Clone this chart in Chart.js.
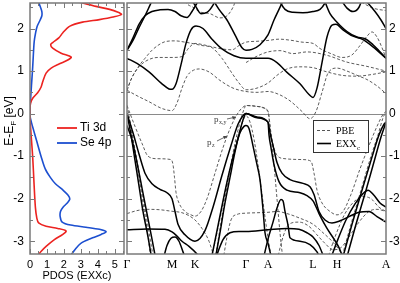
<!DOCTYPE html>
<html><head><meta charset="utf-8">
<script src="https://cdn.jsdelivr.net/npm/chart.js@4.4.1/dist/chart.umd.min.js"></script>
<style>
html,body{margin:0;padding:0;background:#fff;}
#wrap{position:relative;width:400px;height:283px;overflow:hidden;background:#fff;}
canvas{position:absolute;left:0;top:0;}
</style></head><body>
<div id="wrap"><canvas id="dos" width="126" height="283"></canvas><canvas id="bands" width="400" height="283"></canvas></div>
<script>
// ---------- PDOS data (energy in eV, DOS in states) ----------
const tiEnergy = [2.62,2.52,2.45,2.38,2.33,2.27,2.21,2.15,2.05,1.9,1.78,1.67,1.62,1.54,1.42,1.33,1.26,1.17,1.07,0.95,0.75,0.62,0.49,0.36,0.24,0.1,-0.1,-0.47,-1.03,-1.66,-2.21,-2.45,-2.57,-2.65,-2.7,-2.76,-2.84,-2.96,-3.12,-3.24,-3.34];
const tiDos    = [2.9,3.9,4.7,5.2,5.4,4.9,4.1,3.1,2.33,1.94,1.7,1.34,1.22,1.34,1.84,2.43,2.23,1.74,1.25,0.95,0.75,0.65,0.45,0.16,0.03,0,0,0.06,0.16,0.24,0.32,0.4,0.51,0.95,1.64,2.13,1.94,1.44,0.95,0.65,0.45];
const seEnergy = [2.63,2.5,2.4,2.3,2.2,2.05,1.9,1.7,1.4,1.1,0.8,0.5,0.25,0.1,-0.05,-0.2,-0.4,-0.65,-1.0,-1.3,-1.5,-1.65,-1.8,-1.92,-2.01,-2.1,-2.2,-2.3,-2.42,-2.55,-2.62,-2.67,-2.72,-2.78,-2.84,-2.92,-3.05,-3.2,-3.34];
const seDos    = [0.5,0.62,0.7,0.7,0.6,0.42,0.33,0.25,0.2,0.16,0.11,0.06,0.02,0,0,0.08,0.22,0.4,0.65,0.9,1.2,1.5,1.95,2.25,2.35,2.2,1.95,1.8,1.78,1.9,2.4,3.3,4.1,4.5,4.2,3.7,3.0,2.65,2.4];
const dosTicks = [0,1,2,3,4,5];
const energyTicks = [-3,-2,-1,0,1,2];

// ---------- band structure: k-path positions and labels ----------
const kTicks  = [0,45,68,119,141,186,210,259];
const kLabels = ['\u0393','M','K','\u0393','A','L','H','A'];

// EXXc bands: [k, E]
const exxC1 = [[0,1.3],[10,1.18],[22,0.98],[35,0.7],[42,0.58],[45,0.57],[49,0.7],[54,1.15],[59,1.65],[64,1.97],[69,2.06],[76,2.0],[85,1.75],[95,1.52],[107,1.36],[119,1.3],[141,1.3],[150,1.2],[160,0.97],[173,0.7],[182,0.45],[186,0.38],[190,0.6],[195,1.2],[200,1.8],[205,2.08],[209,2.1],[216,1.97],[226,1.82],[236,1.74],[246,1.57],[259,1.3]];
const exxC2 = [[0,1.49],[6,1.72],[12,2.02],[18,2.3],[23,2.55],[27,2.75]];
const exxC3 = [[0,1.49],[6,1.78],[12,2.1],[18,2.3],[25,2.4],[33,2.44],[41,2.45],[48,2.4],[54,2.3],[60,2.26],[65,2.4],[70,2.6],[74,2.75]];
const exxC4 = [[84,2.75],[92,2.45],[100,2.2],[108,1.85],[115,1.55],[119,1.49],[125,1.51],[133,1.62],[141,1.85],[147,2.2],[152,2.45],[156,2.65],[158,2.75]];
const exxC5 = [[62,2.75],[68,2.55],[74,2.35],[80,2.38],[86,2.55],[90,2.75]];
const exxC6 = [[150,2.75],[158,2.45],[166,2.38],[176,2.37],[186,2.4],[193,2.45],[198,2.6],[201,2.75]];
const exxC7 = [[196,2.75],[203,2.35],[210,2.15],[220,1.93],[230,1.8],[238,1.76],[246,1.62],[252,1.48],[259,1.3]];
const exxC8 = [[234,2.75],[240,2.62],[248,2.4],[254,2.2],[259,2.0]];
const exxC9 = [[212,2.75],[220,2.48],[226,2.4],[232,2.5],[236,2.75]];
const exxV1 = [[0,0],[6,-0.45],[12,-0.95],[18,-1.4],[25,-1.65],[33,-1.78],[40,-1.86],[45,-2.0],[48,-2.3],[51,-2.6],[58,-2.85],[68,-3.0],[78,-2.75],[86,-2.2],[95,-1.45],[104,-0.75],[111,-0.25],[116,-0.05],[119,0],[130,-0.08],[141,-0.2],[143,-0.45],[146,-0.75],[150,-1.15],[155,-1.4],[163,-1.55],[176,-1.64],[183,-1.72],[187,-1.9],[192,-2.3],[198,-2.5],[205,-2.57],[213,-2.52],[222,-2.42],[232,-2.32],[242,-2.3],[250,-2.42],[259,-2.55]];
const exxV2 = [[0,0],[4,-0.5],[8,-1.1],[12,-1.7],[16,-2.3],[21,-2.9],[25,-3.45]];
const exxV3 = [[88,-3.45],[93,-2.8],[98,-2.1],[103,-1.5],[108,-0.9],[113,-0.4],[117,-0.08],[119,0],[130,-0.1],[141,-0.2],[142,-0.5],[144,-0.8],[147,-1.2],[152,-1.6],[160,-1.8],[173,-1.86],[180,-1.93],[186,-2.05],[193,-2.4],[200,-2.7],[207,-2.95],[212,-3.15],[217,-3.45]];
const exxV4 = [[0,-0.28],[5,-0.62],[10,-1.15],[15,-1.75],[20,-2.35],[25,-2.95],[29,-3.45]];
const exxV5 = [[84,-3.45],[90,-2.75],[96,-2.05],[102,-1.4],[108,-0.85],[113,-0.45],[117,-0.3],[119,-0.28],[122,-0.35],[126,-0.76],[130,-1.2],[133,-1.55],[136,-2.25],[138,-2.8],[141,-3.05],[145,-3.45]];
const exxV6 = [[136,-3.45],[141,-2.95],[146,-2.55],[150,-2.22],[154,-2.02],[156,-2.05],[158,-2.3],[161,-2.62],[163,-2.92],[173,-3.0],[183,-3.08],[190,-3.25],[194,-3.45]];
const exxV7 = [[0,-2.73],[20,-2.71],[38,-2.72],[45,-2.78],[50,-2.88],[55,-3.0],[62,-3.12],[70,-3.3],[75,-3.45]];
const exxV8 = [[88,-3.45],[91,-3.25],[96,-2.96],[103,-2.8],[112,-2.77],[119,-2.77],[141,-2.73],[160,-2.7],[172,-2.72],[180,-2.8],[186,-2.9],[192,-3.1],[198,-3.45]];
const exxV9 = [[36,-3.45],[40,-3.1],[44,-2.93],[48,-2.9],[52,-3.0],[56,-3.25],[59,-3.45]];
const exxV10 = [[203,-3.45],[211,-2.95],[219,-2.5],[228,-2.12],[236,-1.88],[241,-1.8],[247,-1.92],[253,-2.1],[259,-2.2]];
const exxV11 = [[215,-3.45],[225,-2.6],[235,-1.8],[245,-1.02],[252,-0.5],[257,-0.25],[259,-0.2]];
const exxV12 = [[219,-3.45],[229,-2.6],[239,-1.8],[248,-1.05],[254,-0.55],[258,-0.27],[259,-0.2]];

// PBE bands: [k, E]
const pbeC1 = [[0,0.55],[10,0.42],[22,0.28],[35,0.12],[45,0.07],[50,0.25],[55,0.6],[60,0.88],[65,1.0],[72,1.05],[82,0.98],[93,0.78],[106,0.6],[119,0.52],[130,0.5],[141,0.52],[152,0.45],[163,0.3],[175,0.05],[183,-0.12],[189,0.05],[195,0.5],[201,0.95],[210,1.07],[220,1.0],[230,0.9],[240,0.8],[250,0.65],[259,0.47]];
const pbeC2 = [[0,0.55],[5,0.85],[12,1.1],[20,1.25],[31,1.32],[45,1.32],[55,1.34],[62,1.55],[68,1.65],[76,1.62],[85,1.57],[95,1.52],[105,1.5],[112,1.6],[119,1.68],[130,1.7],[141,1.72],[152,1.75],[165,1.72],[175,1.68],[186,1.65],[193,1.53],[205,1.4],[215,1.32],[225,1.38],[233,1.6],[240,1.82],[245,1.92],[250,1.8],[255,1.55],[259,1.3]];
const pbeC3 = [[0,0.55],[4,0.8],[11,1.09],[18,1.3],[25,1.49],[32,1.62],[38,1.69],[48,1.71],[58,1.68],[65,1.65],[75,1.6],[85,1.55],[95,1.3],[105,0.95],[112,0.72],[119,0.56],[130,0.6],[141,0.72],[150,0.9],[160,1.05],[173,1.1],[186,1.08],[200,0.98],[215,0.9],[230,0.88],[245,0.92],[259,0.98]];
const pbeC4 = [[119,1.2],[130,1.35],[141,1.45],[153,1.48],[166,1.41],[180,1.45],[200,1.37],[220,1.21],[240,1.11],[259,1.0]];
const pbeC5 = [[55,2.75],[60,2.58],[66,2.5],[73,2.39],[83,2.35],[93,2.25],[100,2.3],[106,2.5],[110,2.75]];
const pbeC6 = [[226,2.75],[236,2.6],[246,2.48],[259,2.42]];
const pbeV1 = [[0,0.19],[8,-0.3],[15,-0.7],[21,-1.0],[30,-1.06],[44,-1.08],[46,-1.2],[47.5,-1.5],[49,-1.85],[52,-2.1],[58,-2.3],[64,-2.38],[68,-2.41],[74,-2.3],[80,-2.0],[88,-1.4],[96,-0.8],[104,-0.3],[112,0.05],[117,0.17],[119,0.19],[130,0.17],[138,0.12],[141,0.05],[143,-0.3],[146,-0.72],[150,-0.98],[158,-1.06],[175,-1.08],[184,-1.12],[187,-1.4],[190,-1.8],[195,-2.1],[203,-2.3],[210,-2.38],[216,-2.3],[224,-1.9],[233,-1.3],[242,-0.75],[250,-0.3],[256,-0.02],[259,0.05]];
const pbeV2 = [[0,0.19],[4,-0.3],[8,-0.9],[12,-1.5],[16,-2.1],[20,-2.7],[24,-3.45]];
const pbeV3 = [[88,-3.45],[93,-2.7],[98,-2.0],[103,-1.3],[108,-0.7],[113,-0.2],[117,0.1],[119,0.19],[130,0.17],[141,0.05],[144,-0.5],[147,-1.2],[150,-2.0],[153,-2.8],[156,-3.45]];
const pbeV4 = [[214,-3.45],[224,-2.6],[234,-1.8],[244,-1.0],[251,-0.5],[256,-0.1],[259,0.05]];
const pbeV5 = [[0,-0.05],[5,-0.5],[10,-1.1],[15,-1.8],[20,-2.5],[25,-3.2],[27,-3.45]];
const pbeV6 = [[84,-3.45],[90,-2.8],[96,-2.1],[102,-1.4],[108,-0.8],[114,-0.3],[119,-0.05],[123,-0.2],[127,-0.6],[131,-1.2],[135,-1.9],[139,-2.6],[143,-3.2],[146,-3.45]];
const pbeV7 = [[0,-2.35],[10,-2.28],[20,-2.25],[33,-2.26],[43,-2.29],[55,-2.33],[62,-2.4],[68,-2.5],[75,-2.7],[82,-3.0],[88,-3.45]];
const pbeV8 = [[96,-3.45],[100,-2.9],[104,-2.5],[110,-2.37],[119,-2.34],[130,-2.33],[141,-2.32],[150,-2.3],[160,-2.35],[172,-2.45],[186,-2.6],[196,-2.8],[205,-3.0],[212,-3.2],[218,-3.45]];
const pbeV9 = [[150,-3.45],[156,-2.9],[162,-2.6],[172,-2.55],[182,-2.65],[190,-2.85],[198,-3.05],[206,-3.2],[214,-3.15],[222,-2.9],[232,-2.55],[242,-2.3],[250,-2.25],[259,-2.3]];
const pbeV10 = [[200,-3.45],[208,-2.9],[218,-2.35],[228,-2.05],[236,-1.95],[244,-2.0],[252,-2.2],[259,-2.3]];

const exxBands = [exxC1,exxC2,exxC3,exxC4,exxC5,exxC6,exxC7,exxC8,exxC9,exxV1,exxV2,exxV3,exxV4,exxV5,exxV6,exxV7,exxV8,exxV9,exxV10,exxV11,exxV12];
const pbeBands = [pbeC1,pbeC2,pbeC3,pbeC4,pbeC5,pbeC6,pbeV1,pbeV2,pbeV3,pbeV4,pbeV5,pbeV6,pbeV7,pbeV8,pbeV9,pbeV10];

const E_MIN = -3.3, E_MAX = 2.6;
const FRAME = '#7a7a7a';
const SANS = '"Liberation Sans", Arial, sans-serif';
const SERIF = '"Liberation Serif", "Times New Roman", serif';

function noPad(s) { s.paddingTop = 0; s.paddingBottom = 0; s.paddingLeft = 0; s.paddingRight = 0; }

function drawFrameTicks(ctx, a, yScale, xScale, xMinor){
  ctx.save();
  ctx.strokeStyle = FRAME; ctx.lineWidth = 1.5;
  ctx.strokeRect(a.left, a.top, a.right - a.left, a.bottom - a.top);
  ctx.lineWidth = 1;
  ctx.beginPath();
  for (let e = -3; e <= 2.5001; e += 0.5) {
    const y = Math.round(yScale.getPixelForValue(e)) + 0.5;
    const len = Math.abs(e - Math.round(e)) < 1e-6 ? 5 : 3;
    ctx.moveTo(a.left, y); ctx.lineTo(a.left + len, y);
    ctx.moveTo(a.right, y); ctx.lineTo(a.right - len, y);
  }
  if (xMinor) {
    for (let v = 0; v <= 5.5001; v += 0.5) {
      const x = Math.round(xScale.getPixelForValue(v)) + 0.5;
      const len = Math.abs(v - Math.round(v)) < 1e-6 ? 5 : 3;
      ctx.moveTo(x, a.bottom); ctx.lineTo(x, a.bottom - len);
      ctx.moveTo(x, a.top); ctx.lineTo(x, a.top + len);
    }
  }
  ctx.stroke();
  ctx.restore();
}

const dosDecor = {
  id: 'dosDecor',
  afterDatasetsDraw(chart) {
    const {ctx, chartArea: a, scales: {x, y}} = chart;
    drawFrameTicks(ctx, a, y, x, true);
    ctx.save();
    const items = [['Ti 3d', '#ec2320', 128], ['Se 4p', '#1c4fd0', 143]];
    ctx.font = '12px ' + SANS; ctx.textBaseline = 'middle'; ctx.fillStyle = '#000';
    items.forEach(([t, c, yy]) => {
      ctx.strokeStyle = c; ctx.lineWidth = 1.8;
      ctx.beginPath(); ctx.moveTo(57, yy); ctx.lineTo(77, yy); ctx.stroke();
      ctx.fillText(t, 80, yy);
    });
    ctx.font = '11px ' + SANS; ctx.textAlign = 'center'; ctx.textBaseline = 'middle';
    ctx.fillText('PDOS (EXXc)', (a.left + a.right) / 2, 276);
    ctx.translate(9, 121);
    ctx.rotate(-Math.PI / 2);
    const f1 = '12px ' + SANS, f2 = '8px ' + SANS;
    ctx.font = f1; const w1 = ctx.measureText('E-E').width;
    ctx.font = f2; const w2 = ctx.measureText('F').width;
    ctx.font = f1; const w3 = ctx.measureText(' [eV]').width;
    let sx = -(w1 + w2 + w3) / 2;
    ctx.textAlign = 'left'; ctx.textBaseline = 'alphabetic';
    ctx.fillText('E-E', sx, 4); sx += w1;
    ctx.font = f2; ctx.fillText('F', sx, 7); sx += w2;
    ctx.font = f1; ctx.fillText(' [eV]', sx, 4);
    ctx.restore();
  }
};

function arrow(ctx, x1, y1, x2, y2) {
  ctx.beginPath(); ctx.moveTo(x1, y1); ctx.lineTo(x2, y2); ctx.stroke();
  const ang = Math.atan2(y2 - y1, x2 - x1);
  ctx.beginPath();
  ctx.moveTo(x2, y2);
  ctx.lineTo(x2 - 4 * Math.cos(ang - 0.45), y2 - 4 * Math.sin(ang - 0.45));
  ctx.lineTo(x2 - 4 * Math.cos(ang + 0.45), y2 - 4 * Math.sin(ang + 0.45));
  ctx.closePath(); ctx.fill();
}

const bandDecor = {
  id: 'bandDecor',
  beforeDatasetsDraw(chart) {
    const {ctx, chartArea: a, scales: {y}} = chart;
    ctx.save();
    ctx.strokeStyle = '#8a8a8a'; ctx.lineWidth = 1;
    const y0 = Math.round(y.getPixelForValue(0)) + 0.5;
    ctx.beginPath(); ctx.moveTo(a.left, y0); ctx.lineTo(a.right, y0); ctx.stroke();
    ctx.restore();
  },
  afterDatasetsDraw(chart) {
    const {ctx, chartArea: a, scales: {x, y}} = chart;
    drawFrameTicks(ctx, a, y, x, false);
    ctx.save();
    const bx = 313, by = 120, bw = 55, bh = 32;
    ctx.fillStyle = '#fff'; ctx.fillRect(bx, by, bw, bh);
    ctx.strokeStyle = '#333'; ctx.lineWidth = 1;
    ctx.strokeRect(bx + 0.5, by + 0.5, bw, bh);
    ctx.strokeStyle = '#555'; ctx.lineWidth = 1; ctx.setLineDash([3, 2]);
    ctx.beginPath(); ctx.moveTo(317, 130.5); ctx.lineTo(331, 130.5); ctx.stroke();
    ctx.setLineDash([]); ctx.strokeStyle = '#000'; ctx.lineWidth = 1.6;
    ctx.beginPath(); ctx.moveTo(317, 143.5); ctx.lineTo(331, 143.5); ctx.stroke();
    ctx.fillStyle = '#000'; ctx.textBaseline = 'alphabetic'; ctx.textAlign = 'left';
    ctx.font = '10px ' + SERIF;
    ctx.fillText('PBE', 336, 134);
    ctx.fillText('EXX', 336, 147);
    const wE = ctx.measureText('EXX').width;
    ctx.font = '7px ' + SERIF; ctx.fillText('c', 336 + wE + 0.5, 150);
    ctx.fillStyle = '#444'; ctx.strokeStyle = '#444'; ctx.lineWidth = 0.8;
    ctx.font = '9px ' + SERIF; ctx.fillText('p', 214, 122);
    ctx.font = '6px ' + SERIF; ctx.fillText('x,y', 219, 124);
    arrow(ctx, 227, 119, 236, 117);
    ctx.font = '9px ' + SERIF; ctx.fillText('p', 207, 145);
    ctx.font = '6px ' + SERIF; ctx.fillText('z', 212, 147);
    arrow(ctx, 217, 141, 227, 136);
    ctx.restore();
  }
};

new Chart(document.getElementById('dos'), {
  type: 'line',
  data: { datasets: [
    { label: 'Ti 3d', data: tiEnergy.map((e, i) => ({x: tiDos[i], y: e})), borderColor: '#ec2320', borderWidth: 1.6, pointRadius: 0, tension: 0.3, fill: false },
    { label: 'Se 4p', data: seEnergy.map((e, i) => ({x: seDos[i], y: e})), borderColor: '#1c4fd0', borderWidth: 1.6, pointRadius: 0, tension: 0.3, fill: false }
  ]},
  options: {
    responsive: false, animation: false, events: [],
    layout: { padding: { top: 3, right: 2, left: 0, bottom: 0 } },
    plugins: { legend: { display: false }, tooltip: { enabled: false } },
    scales: {
      x: { type: 'linear', min: 0, max: 5.55,
        grid: { display: false, drawTicks: false }, border: { display: false },
        afterBuildTicks: s => { s.ticks = dosTicks.map(v => ({value: v})); },
        ticks: { font: { family: SANS, size: 11 }, color: '#000', padding: 4, maxRotation: 0, autoSkip: false },
        afterFit: s => { s.height = 29; noPad(s); } },
      y: { type: 'linear', min: E_MIN, max: E_MAX,
        grid: { display: false, drawTicks: false }, border: { display: false },
        afterBuildTicks: s => { s.ticks = energyTicks.map(v => ({value: v})); },
        ticks: { font: { family: SANS, size: 12 }, color: '#000', padding: 6, autoSkip: false },
        afterFit: s => { s.width = 30; noPad(s); } }
    }
  },
  plugins: [dosDecor]
});

const bandDs = (arr, solid) => ({
  data: arr.map(p => ({x: p[0], y: p[1]})),
  borderColor: solid ? '#000' : '#4a4a4a',
  borderWidth: solid ? 1.5 : 0.9,
  borderDash: solid ? [] : [3, 2],
  pointRadius: 0, fill: false, cubicInterpolationMode: 'monotone'
});

new Chart(document.getElementById('bands'), {
  type: 'line',
  data: { datasets: exxBands.map(b => bandDs(b, true)).concat(pbeBands.map(b => bandDs(b, false))) },
  options: {
    responsive: false, animation: false, events: [],
    layout: { padding: { top: 3, left: 127, right: 0, bottom: 0 } },
    plugins: { legend: { display: false }, tooltip: { enabled: false } },
    scales: {
      x: { type: 'linear', min: 0, max: 259,
        grid: { display: false, drawTicks: false }, border: { display: false },
        afterBuildTicks: s => { s.ticks = kTicks.map(v => ({value: v})); },
        ticks: { font: { family: SERIF, size: 12 }, color: '#000', padding: 4, maxRotation: 0, autoSkip: false,
          callback: (v, i) => kLabels[i] },
        afterFit: s => { s.height = 29; noPad(s); } },
      y: { type: 'linear', position: 'right', min: E_MIN, max: E_MAX,
        grid: { display: false, drawTicks: false }, border: { display: false },
        afterBuildTicks: s => { s.ticks = energyTicks.map(v => ({value: v})); },
        ticks: { font: { family: SANS, size: 12 }, color: '#000', padding: 3, autoSkip: false },
        afterFit: s => { s.width = 14; noPad(s); } }
    }
  },
  plugins: [bandDecor]
});
</script></body></html>
